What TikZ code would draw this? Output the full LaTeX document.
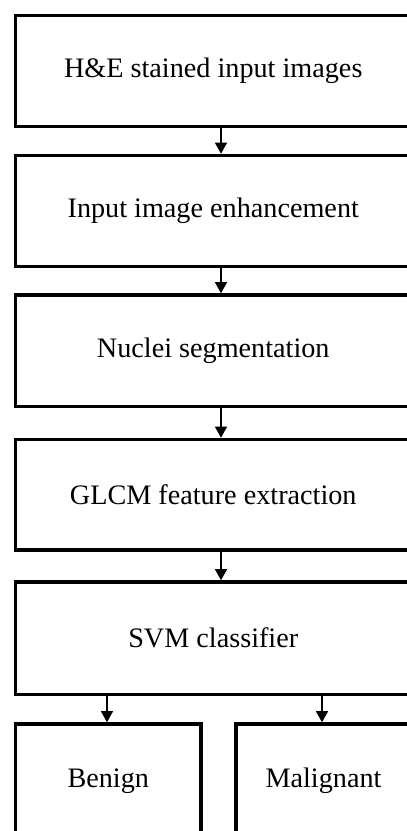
\documentclass[tikz,border=0pt]{standalone}
\usepackage{fontspec}
\setmainfont{Liberation Serif}
\usetikzlibrary{arrows.meta}
\begin{document}
\begin{tikzpicture}[x=1pt,y=-1pt,
  box/.style={draw=black,line width=3.6pt,rectangle,inner sep=0pt,
    font=\fontsize{28.2}{33}\selectfont},
  mainbox/.style={box,minimum width=395.5pt},
  arr/.style={draw=black,line width=1.2pt,-{Triangle[length=11pt,width=12pt]}}]
\useasboundingbox (0,0) rectangle (407,831);
\clip (0,0) rectangle (407,831);
\fill[white] (0,0) rectangle (407,831);
\node[mainbox,minimum height=111pt] (b1) at (213.25,71) {H\&E stained input images};
\node[mainbox,minimum height=111pt] (b2) at (213.25,211) {Input image enhancement};
\node[mainbox,minimum height=111.5pt] (b3) at (213.25,350.75) {Nuclei segmentation};
\node[mainbox,minimum height=110.5pt] (b4) at (213.25,494.75) {GLCM feature extraction};
\node[mainbox,minimum height=112.5pt] (b5) at (213.25,638.25) {SVM classifier};
\node[box,minimum width=185.5pt,minimum height=114pt] (b6) at (108.25,781) {Benign};
\node[box,minimum width=175pt,minimum height=114pt] (b7) at (323.5,781) {Malignant};
\draw[arr] ([xshift=7.75pt]b1.south) -- ([xshift=7.75pt]b2.north);
\draw[arr] ([xshift=7.75pt]b2.south) -- ([xshift=7.75pt]b3.north);
\draw[arr] ([xshift=7.75pt]b3.south) -- ([xshift=7.75pt]b4.north);
\draw[arr] ([xshift=7.75pt]b4.south) -- ([xshift=7.75pt]b5.north);
\draw[arr] ([xshift=-1.25pt]b5.south -| b6.north) -- ([xshift=-1.25pt]b6.north);
\draw[arr] ([xshift=-1.5pt]b5.south -| b7.north) -- ([xshift=-1.5pt]b7.north);
\end{tikzpicture}
\end{document}
